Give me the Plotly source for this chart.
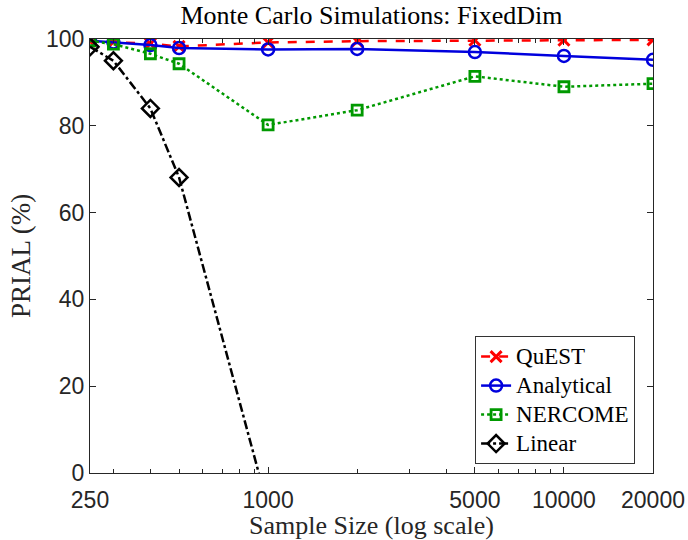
import plotly.graph_objects as go
import numpy as np

sample_sizes = [250, 300, 400, 500, 1000, 2000, 5000, 10000, 20000]
quest = [99.5, 99.3, 98.9, 98.3, 99.2, 99.5, 99.7, 99.7, 99.8]
analytical = [99.6, 99.2, 98.6, 97.9, 97.6, 97.7, 97.0, 96.1, 95.2]
nercome = [99.6, 98.8, 96.6, 94.3, 80.2, 83.6, 91.4, 89.0, 89.7]
linear = [98.2, 95.0, 84.0, 68.1, -8.0, None, None, None, None]
series_names = ["QuEST", "Analytical", "NERCOME", "Linear"]

x_tickvals = [250, 1000, 5000, 10000, 20000]
x_ticktext = ["250", "1000", "5000", "10000", "20000"]
x_minor = [300, 400, 500, 600, 700, 800, 900, 2000, 3000, 4000, 6000, 7000, 8000, 9000]
y_tickvals = [0, 20, 40, 60, 80, 100]

serif = "Liberation Serif, DejaVu Serif, serif"
sans = "Liberation Sans, Arial, sans-serif"


def lg(name):
    return '<span style="font-size:23px">' + name + '</span>'


fig = go.Figure()
fig.add_trace(go.Scatter(x=sample_sizes, y=quest, name=lg(series_names[0]), mode="lines+markers",
                         line=dict(color="#ff0000", width=2.5, dash="dash"),
                         marker=dict(symbol="x-thin-open", size=11, line=dict(color="#ff0000", width=3))))
fig.add_trace(go.Scatter(x=sample_sizes, y=analytical, name=lg(series_names[1]), mode="lines+markers",
                         line=dict(color="#0000dd", width=2.5),
                         marker=dict(symbol="circle-open", size=12, line=dict(color="#0000dd", width=2.5))))
fig.add_trace(go.Scatter(x=sample_sizes, y=nercome, name=lg(series_names[2]), mode="lines+markers",
                         line=dict(color="#009900", width=2.5, dash="dot"),
                         marker=dict(symbol="square-open", size=10, line=dict(color="#009900", width=2.8))))
fig.add_trace(go.Scatter(x=sample_sizes, y=linear, name=lg(series_names[3]), mode="lines+markers",
                         line=dict(color="#000000", width=2.5, dash="dashdot"),
                         marker=dict(symbol="diamond-open", size=13, line=dict(color="#000000", width=2.5))))

fig.update_layout(
    width=688, height=540,
    margin=dict(l=90, r=35, t=39, b=67, autoexpand=False),
    paper_bgcolor="white", plot_bgcolor="white",
    title=dict(text="Monte Carlo Simulations: FixedDim", x=0.5, xref="paper", xanchor="center",
               y=0.972, yref="container", yanchor="middle",
               font=dict(family=serif, size=26, color="#000000")),
    showlegend=True,
    legend=dict(x=0.684, y=0.168, xanchor="left", yanchor="middle",
                bgcolor="white", bordercolor="#333333", borderwidth=1,
                font=dict(family=serif, size=20, color="#000000"),
                tracegroupgap=0, itemwidth=30),
)
fig.update_xaxes(type="log", range=[np.log10(250), np.log10(20000)],
                 tickvals=x_tickvals, ticktext=x_ticktext,
                 ticks="inside", ticklen=6, tickcolor="#262626",
                 ticklabelstandoff=6,
                 minor=dict(tickvals=x_minor, ticks="inside", ticklen=4, tickcolor="#262626"),
                 showline=True, linecolor="#262626", linewidth=1, mirror="ticks",
                 showgrid=False, zeroline=False,
                 tickfont=dict(family=sans, size=23, color="#262626"),
                 title=dict(text="Sample Size (log scale)", standoff=2,
                            font=dict(family=serif, size=26, color="#262626")))
fig.update_yaxes(range=[0, 100], tickvals=y_tickvals,
                 ticks="inside", ticklen=6, tickcolor="#262626",
                 showline=True, linecolor="#262626", linewidth=1, mirror="ticks",
                 showgrid=False, zeroline=False,
                 tickfont=dict(family=sans, size=23, color="#262626"),
                 title=dict(text="PRIAL (%)", standoff=7,
                            font=dict(family=serif, size=27, color="#262626")))

fig.write_html("out.html", config={"displayModeBar": False},
               post_script="document.body.style.margin='0';document.body.style.overflow='hidden';")
